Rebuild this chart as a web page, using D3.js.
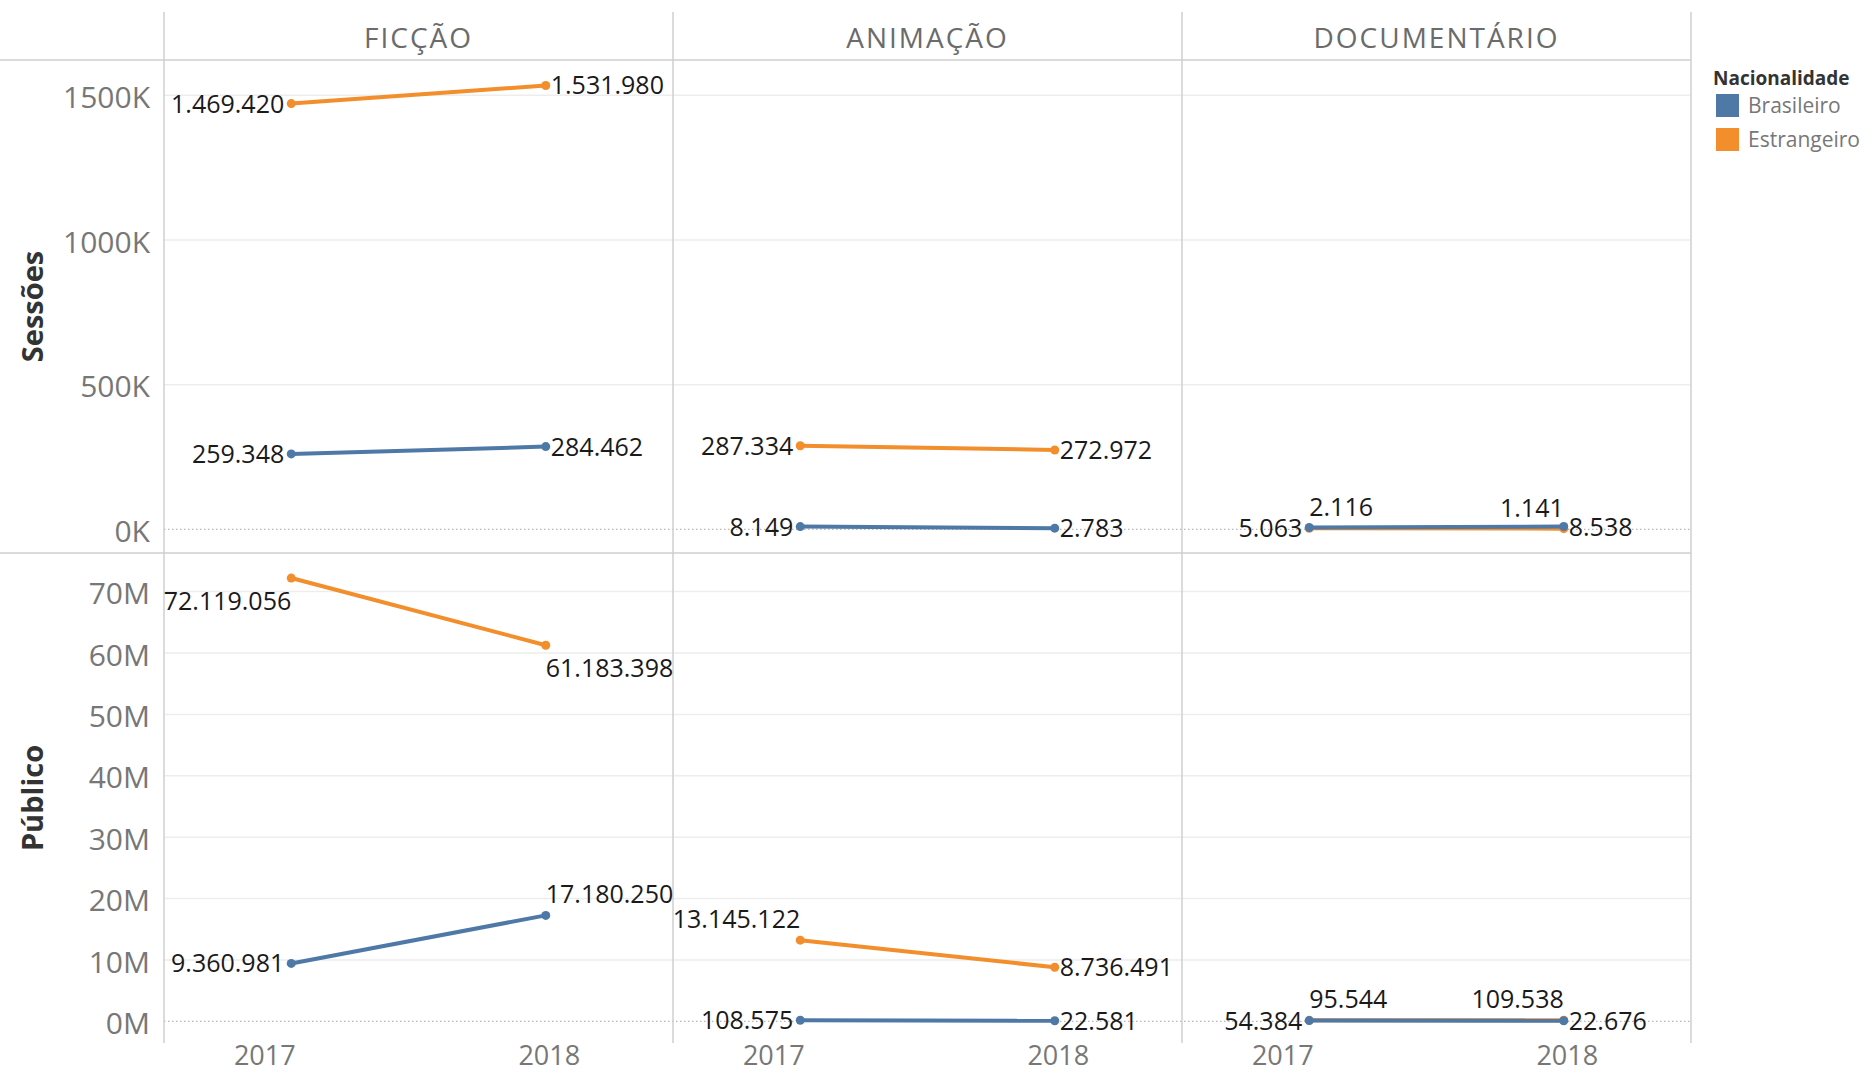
<!DOCTYPE html>
<html>
<head>
<meta charset="utf-8">
<script src="https://cdn.jsdelivr.net/npm/d3@7"></script>
<style>
body { margin: 0; background: #fff; }
text { font-family: "Open Sans", sans-serif; }
</style>
</head>
<body>
<svg width="1876" height="1080"></svg>
<script>
const generos = ["FICÇÃO", "ANIMAÇÃO", "DOCUMENTÁRIO"];
const anos = ["2017", "2018"];
const nacionalidades = ["Brasileiro", "Estrangeiro"];
const cores = ["#4e79a7", "#f28e2b"];

// valores por gênero, [2017, 2018]
const sessoesBrasileiro = [[259348, 284462], [8149, 2783], [5063, 8538]];
const sessoesEstrangeiro = [[1469420, 1531980], [287334, 272972], [2116, 1141]];
const publicoBrasileiro = [[9360981, 17180250], [108575, 22581], [54384, 22676]];
const publicoEstrangeiro = [[72119056, 61183398], [13145122, 8736491], [95544, 109538]];

const ticksSessoes = [0, 500000, 1000000, 1500000];
const ticksPublico = [0, 10e6, 20e6, 30e6, 40e6, 50e6, 60e6, 70e6];

// onde fica cada rótulo: L/R ao lado, TL/TR acima, BL/BR abaixo
const rotSessoes = [[["L", "R"], ["L", "R"], ["L", "R"]], [["L", "R"], ["L", "R"], ["TR", "TL"]]];
const rotPublico = [[["L", "TR"], ["L", "R"], ["L", "R"]], [["BL", "BR"], ["TL", "R"], ["TR", "TL"]]];

const svg = d3.select("svg");
const left = 164;
const paneW = 509;
const topY = 12;
const headerY = 60;
const bottomY = 1043;
const fmtNum = d3.formatLocale({decimal: ",", thousands: ".", grouping: [3], currency: ["R$", ""]}).format(",d");

const rows = [
    {titulo: "Sessões", series: [sessoesBrasileiro, sessoesEstrangeiro], ticks: ticksSessoes,
     dominio: [-83000, 1620000], y0: headerY, y1: 553, fmt: d => d / 1000 + "K", rot: rotSessoes},
    {titulo: "Público", series: [publicoBrasileiro, publicoEstrangeiro], ticks: ticksPublico,
     dominio: [-3.6e6, 76.2e6], y0: 553, y1: bottomY, fmt: d => d / 1e6 + "M", rot: rotPublico}
];

rows.forEach(r => r.y = d3.scaleLinear().domain(r.dominio).range([r.y1, r.y0]));

// grades
rows.forEach(r => {
    const g = svg.append("g")
        .attr("transform", `translate(${left},0)`)
        .call(d3.axisLeft(r.y).tickValues(r.ticks).tickSize(-3 * paneW).tickFormat(""));
    g.select(".domain").remove();
    g.selectAll("line")
        .attr("stroke", d => d === 0 ? "#b8b8b8" : "#ededed")
        .attr("stroke-width", d => d === 0 ? 1.2 : 1.5)
        .attr("stroke-dasharray", d => d === 0 ? "1.5,2.5" : null);

    const ax = svg.append("g")
        .attr("transform", `translate(${left},0)`)
        .call(d3.axisLeft(r.y).tickValues(r.ticks).tickSize(0).tickPadding(14).tickFormat(r.fmt));
    ax.select(".domain").remove();
    ax.selectAll("text")
        .attr("dy", "0.42em")
        .style("font-size", "30px")
        .attr("fill", "#777");

    svg.append("text")
        .attr("transform", `translate(33,${(r.y0 + r.y1) / 2}) rotate(-90)`)
        .attr("text-anchor", "middle")
        .attr("dy", "0.35em")
        .style("font-size", "29px")
        .style("font-weight", "bold")
        .attr("fill", "#333")
        .text(r.titulo);
});

// moldura
svg.append("g")
    .selectAll("line")
    .data([headerY, 553])
    .enter().append("line")
    .attr("x1", 0).attr("x2", left + 3 * paneW)
    .attr("y1", d => d).attr("y2", d => d)
    .attr("stroke", "#cfcfcf").attr("stroke-width", 1.5);

svg.append("g")
    .selectAll("line")
    .data(d3.range(4))
    .enter().append("line")
    .attr("x1", i => left + i * paneW).attr("x2", i => left + i * paneW)
    .attr("y1", topY).attr("y2", bottomY)
    .attr("stroke", "#cfcfcf").attr("stroke-width", 1.5);

svg.append("g")
    .selectAll("text")
    .data(generos)
    .enter().append("text")
    .attr("x", (d, i) => left + i * paneW + paneW / 2)
    .attr("y", 48)
    .attr("text-anchor", "middle")
    .style("font-size", "28px")
    .style("letter-spacing", "2px")
    .attr("fill", "#6b6b6b")
    .text(d => d);

const line = d3.line();

generos.forEach((gen, gi) => {
    const px = left + gi * paneW;
    const x = d3.scalePoint().domain(anos).range([px, px + paneW]).padding(0.5);

    const xa = svg.append("g")
        .attr("transform", `translate(0,${bottomY})`)
        .call(d3.axisBottom(x).tickSize(0).tickPadding(3));
    xa.select(".domain").remove();
    xa.selectAll("text")
        .attr("dx", (d, i) => i === 0 ? -27 : 3)
        .style("font-size", "27px")
        .attr("fill", "#777");

    rows.forEach(r => {
        // estrangeiro primeiro, brasileiro por cima
        [1, 0].forEach(si => {
            const vals = r.series[si][gi];
            const pts = vals.map((v, i) => [x(anos[i]), r.y(v)]);
            svg.append("path")
                .attr("d", line(pts))
                .attr("fill", "none")
                .attr("stroke", cores[si])
                .attr("stroke-width", 4);
            svg.append("g")
                .selectAll("circle")
                .data(pts)
                .enter().append("circle")
                .attr("cx", d => d[0]).attr("cy", d => d[1])
                .attr("r", 4.5)
                .attr("fill", cores[si]);
        });
    });
});

// rótulos de valores
generos.forEach((gen, gi) => {
    const px = left + gi * paneW;
    const x = d3.scalePoint().domain(anos).range([px, px + paneW]).padding(0.5);
    rows.forEach(r => {
        [0, 1].forEach(si => {
            r.series[si][gi].forEach((v, i) => {
                const pos = r.rot[si][gi][i];
                const cx = x(anos[i]);
                const cy = r.y(v);
                let tx = cx, ty = cy, anchor = "start";
                if (pos === "L") { tx = cx - 7; anchor = "end"; }
                if (pos === "R") { tx = cx + 5; }
                if (pos === "TL") { ty = cy - 21; anchor = "end"; }
                if (pos === "TR") { ty = cy - 21; }
                if (pos === "BL") { ty = cy + 23; anchor = "end"; }
                if (pos === "BR") { ty = cy + 23; }
                svg.append("text")
                    .attr("x", tx)
                    .attr("y", ty)
                    .attr("dy", "0.36em")
                    .attr("text-anchor", anchor)
                    .style("font-size", "25px")
                    .attr("fill", "#1a1a1a")
                    .text(fmtNum(v));
            });
        });
    });
});

// legenda
const legend = svg.append("g").attr("transform", "translate(1713,0)");
legend.append("text")
    .attr("x", 0).attr("y", 85)
    .style("font-size", "19px")
    .style("font-weight", "bold")
    .attr("fill", "#333")
    .text("Nacionalidade");
const item = legend.selectAll(".item")
    .data(nacionalidades)
    .enter().append("g")
    .attr("class", "item")
    .attr("transform", (d, i) => `translate(3,${94 + i * 34})`);
item.append("rect")
    .attr("width", 23).attr("height", 23)
    .attr("fill", (d, i) => cores[i]);
item.append("text")
    .attr("x", 32).attr("y", 12).attr("dy", "0.35em")
    .style("font-size", "21px")
    .attr("fill", "#777")
    .text(d => d);
</script>
</body>
</html>
